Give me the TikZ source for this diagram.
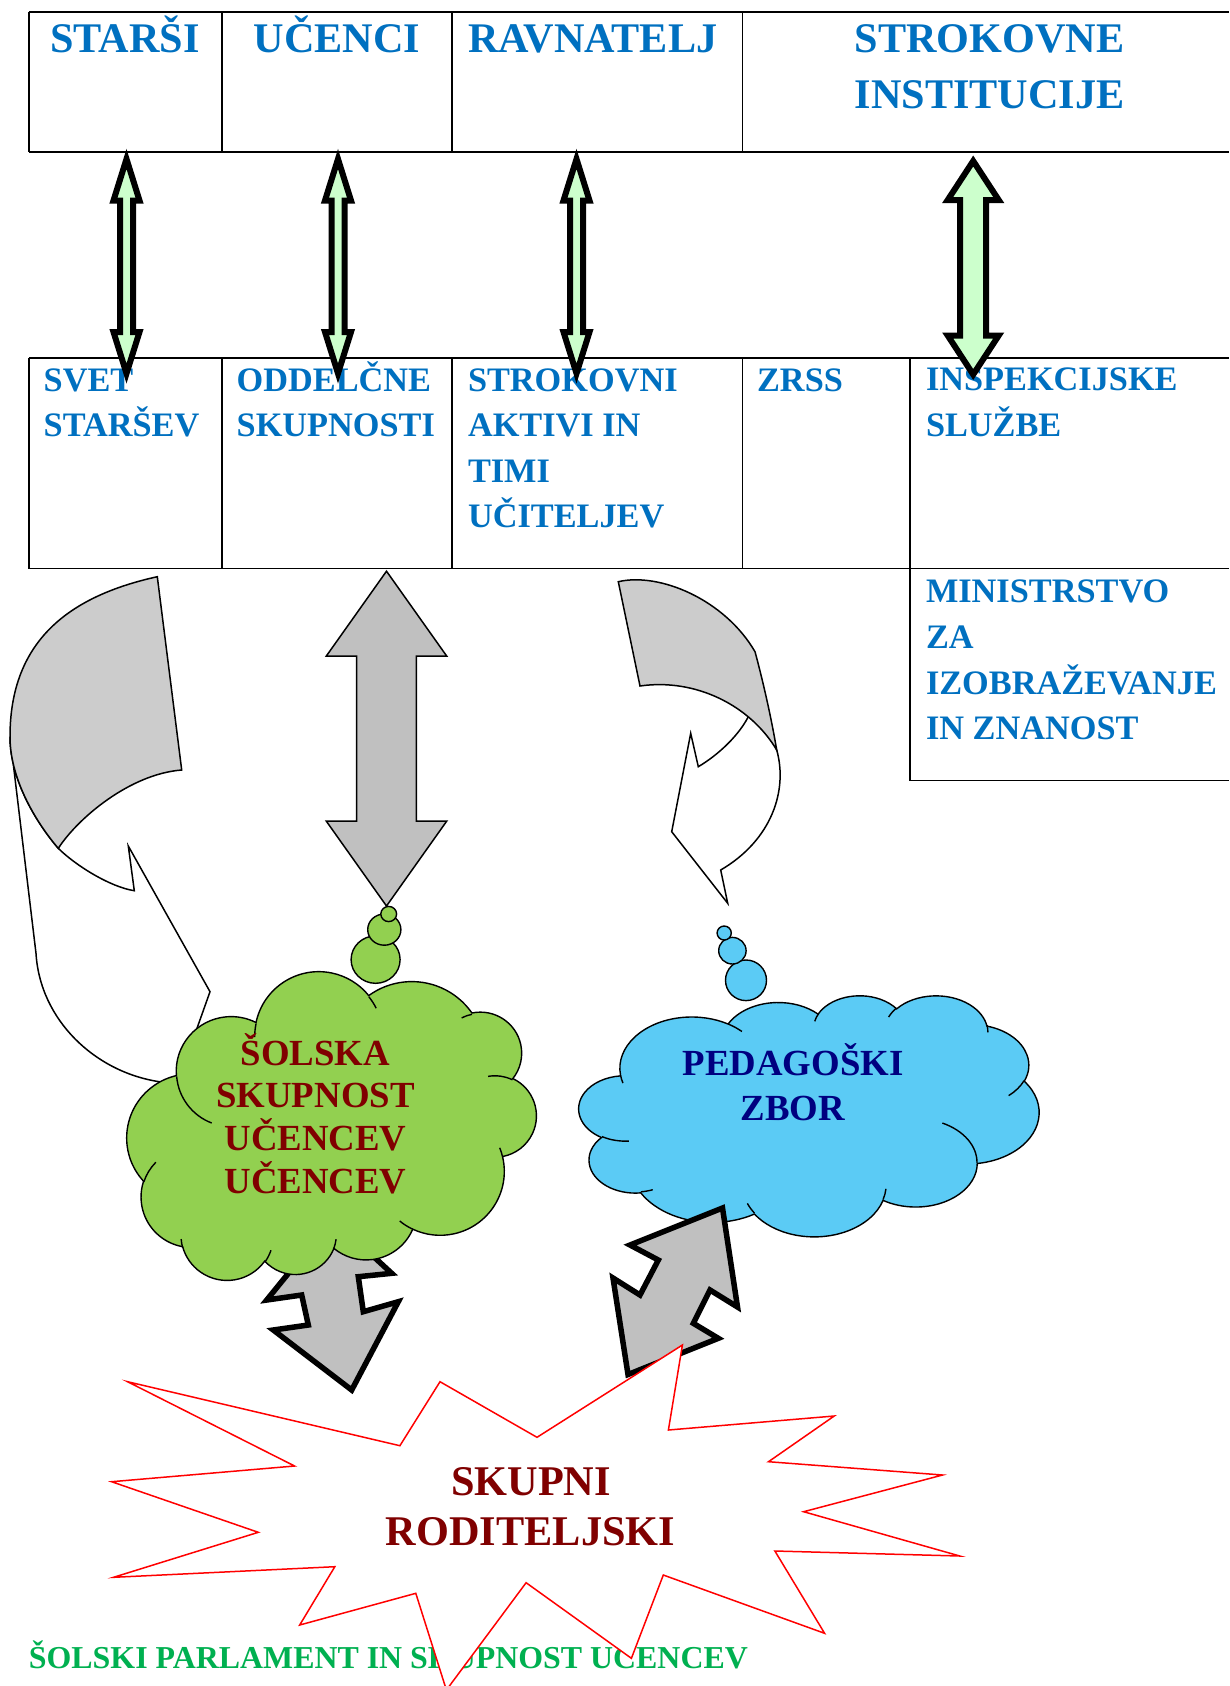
\documentclass[tikz,border=0pt]{standalone}
\usepackage{fontspec}
\setmainfont{Liberation Serif}
\definecolor{hblue}{HTML}{0070C0}
\definecolor{dred}{HTML}{800000}
\definecolor{navyc}{HTML}{000080}
\definecolor{pgreen}{HTML}{00B050}
\definecolor{lgreen}{HTML}{CCFFCC}
\definecolor{cgreen}{HTML}{92D050}
\definecolor{cblue}{HTML}{5BCBF5}
\definecolor{agray}{HTML}{C0C0C0}
\definecolor{bgray}{HTML}{CCCCCC}
\pgfmathdeclarefunction{dmlt}{3}{\pgfmathparse{atan2((#1)*sin(#3),(#2)*cos(#3))}}
\pgfmathdeclarefunction{dmld}{4}{\pgfmathparse{mod(atan2((#1)*sin((#3)+(#4)),(#2)*cos((#3)+(#4)))-atan2((#1)*sin(#3),(#2)*cos(#3))+720,360)-((#4)<0)*360}}
\newcommand\darc[4]{arc[start angle={dmlt(#1,#2,#3)},delta angle={dmld(#1,#2,#3,#4)},x radius=#1,y radius=#2]}
\newcommand\cloudoutline{(390,1437) \darc{675.3}{919}{-190.4875}{123.7805} \darc{533.3}{726.7}{-144.1024}{89.9452} \darc{436.5}{594.5}{-145.8079}{99.7230} \darc{485.7}{659.5}{-130.9861}{117.2417} \darc{533.3}{727.3}{-78.7089}{109.0269} \darc{677.5}{922}{-46.2673}{130.2690} \darc{578.5}{786.7}{0.6250}{114.0333} \darc{675.2}{921.5}{22.4516}{115.1726} \darc{772}{1054.3}{66.2426}{75.7110} \darc{436}{591.8}{-274.9421}{146.7356} \darc{434.5}{594.5}{-246.8285}{152.5189} -- cycle}
\newcommand\clouddetail{(469.3,2617.7) \darc{434.5}{594.5}{86.742}{26.4295} (692.8,3489.9) \darc{436}{591.8}{73.6105}{11.4475} (1647.8,3909) \darc{675.2}{921.5}{137.6242}{14.0811} (2882.7,3475.1) \darc{675.2}{921.5}{6.4533}{15.9984} (3412.9,2295.4) \darc{578.5}{786.7}{-70.2924}{70.9174} (4179.8,1535.4) \darc{533.3}{727.3}{30.318}{27.7515} (3832.4,542.6) \darc{485.7}{659.5}{-13.7443}{14.8589} (2907.8,395.2) \darc{485.7}{659.5}{-149.1815}{18.1954} (2214.1,472) \darc{436.5}{594.5}{-163.4943}{17.6864} (1400,519.2) \darc{675.3}{919}{-66.707}{12.3194} (412.7,1578.9) \darc{675.3}{919}{157.6544}{11.8582}}
\newcommand\vdarrow[7]{\draw[#1] (#2,#3) -- ({#2+#6},{#3+#5}) -- ({#2+#7},{#3+#5}) -- ({#2+#7},{#4-#5}) -- ({#2+#6},{#4-#5}) -- (#2,#4) -- ({#2-#6},{#4-#5}) -- ({#2-#7},{#4-#5}) -- ({#2-#7},{#3+#5}) -- ({#2-#6},{#3+#5}) -- cycle;}
\tikzset{
  tbl/.style={line width=1.6pt},
  garrow/.style={draw=black, fill=lgreen, line width=6pt, line join=miter},
  grayarrow/.style={draw=black, fill=agray, line width=1.5pt, line join=miter},
  outl/.style={draw=black, line width=1.5pt, line join=miter},
  bolt/.style={draw=black, fill=agray, line width=5.5pt, line join=miter},
  cloudl/.style={draw=black, line width=1.4pt},
  hd/.style={inner sep=0pt, text=hblue, font=\fontsize{42.2}{50}\selectfont\bfseries},
  cell/.style={inner sep=0pt, text=hblue, anchor=base west, font=\fontsize{34.3}{40}\selectfont\bfseries},
  ctxt/.style={inner sep=0pt, anchor=base, font=\fontsize{36.8}{44}\selectfont\bfseries},
  stxt/.style={inner sep=0pt, anchor=base, text=dred, font=\fontsize{42.3}{50}\selectfont\bfseries},
  ptxt/.style={inner sep=0pt, anchor=base west, text=pgreen, font=\fontsize{31.9}{38}\selectfont\bfseries}
}
\begin{document}
\begin{tikzpicture}[x=1pt,y=-1pt]
\useasboundingbox (0,0) rectangle (1229,1686);
% table
\draw[tbl] (28.9,11.8) -- (1229,11.8);
\draw[tbl] (28.9,152) -- (1229,152);
\foreach \xx in {28.9,222.2,452,742.3} \draw[tbl] (\xx,11.8) -- (\xx,152);
\draw[tbl] (28.9,358) -- (1229,358);
\draw[tbl] (28.9,568.5) -- (1229,568.5);
\foreach \xx in {28.9,222.2,452,742.3,910} \draw[tbl] (\xx,358) -- (\xx,568.5);
\draw[tbl] (910,568.5) -- (910,780.6) -- (1229,780.6);
% header texts
\node[hd, anchor=base] (h1) at (124.8,52.9) {STARŠI};
\node[hd, anchor=base] (h2) at (337,52.9) {UČENCI};
\node[hd, anchor=base west] (h3) at (467.8,52.9) {RAVNATELJ};
\node[hd, anchor=base] (h4) at (989.6,52.6) {STROKOVNE};
\node[hd, anchor=base] (h5) at (989.6,108.2) {INSTITUCIJE};
% cell texts
\node[cell] (c1) at (43.5,391) {SVET};
\node[cell] (c2) at (43.5,436.6) {STARŠEV};
\node[cell] (c3) at (236.5,391) {ODDELČNE};
\node[cell] (c4) at (236.5,436.6) {SKUPNOSTI};
\node[cell] (c5) at (467.8,391) {STROKOVNI};
\node[cell] (c6) at (467.8,436.6) {AKTIVI IN};
\node[cell] (c7) at (467.8,482.2) {TIMI};
\node[cell] (c8) at (467.8,527.8) {UČITELJEV};
\node[cell] (c9) at (756.9,391) {ZRSS};
\node[cell] (c10) at (925.8,390) {INSPEKCIJSKE};
\node[cell] (c11) at (925.8,436) {SLUŽBE};
\node[cell] (c12) at (925.8,602) {MINISTRSTVO};
\node[cell] (c13) at (925.8,648) {ZA};
\node[cell] (c14) at (925.8,694) {IZOBRAŽEVANJE};
\node[cell] (c15) at (925.8,739) {IN ZNANOST};
% green double arrows
\vdarrow{garrow}{126.5}{159}{373.5}{41.5}{13}{6.5}
\vdarrow{garrow}{338}{159}{373.5}{41.5}{13}{6.5}
\vdarrow{garrow}{576.5}{159}{373.5}{41.5}{13}{6.5}
\vdarrow{garrow}{973.2}{161}{374.5}{39}{25.5}{13}
% left curved arrow
\draw[outl, fill=white] (10,736.7) -- (36,953.3) .. controls (40,1020) and (95,1072) .. (159.3,1081.7) -- (162,1089) -- (174,1093) -- (210,991.7) -- (128.3,846) -- (134.3,890.7) .. controls (110,887) and (75,865) .. (58.3,848.3) .. controls (38.9,825.8) and (10,781.7) .. (10,736.7) -- cycle;
\draw[outl, fill=bgray] (157.3,576.7) .. controls (70,596) and (10,640) .. (10,736.7) .. controls (10,781.7) and (38.9,825.8) .. (58.3,848.3) .. controls (78,818) and (130,774) .. (181.7,770) -- cycle;
% right curved arrow
\draw[outl, fill=white] (776.7,750) .. controls (788,790) and (772,840) .. (720.7,870) -- (727.7,903.3) -- (671.7,831.7) -- (690.7,733.3) -- (698.3,766.7) .. controls (718,755) and (740,735) .. (750,713.3) .. controls (762,725) and (772,738) .. (776.7,750) -- cycle;
\draw[outl, fill=bgray] (618.3,581.7) .. controls (660,572) and (725,600) .. (755,651.7) .. controls (760,670) and (770,710) .. (776.7,750) .. controls (750,705) and (695,678) .. (640,686) -- cycle;
% gray middle double arrow
\vdarrow{grayarrow}{386.5}{571.2}{906}{85}{60.3}{29.85}
% left bolt arrow
\draw[bolt] (309,1248) -- (266.7,1300) -- (301.7,1295) -- (308.3,1325) -- (273.3,1330) -- (351.7,1390) -- (398.3,1301.7) -- (363.3,1311.7) -- (358.3,1276.7) -- (391.7,1273.3) -- (361,1245) -- cycle;
% green bubbles and cloud
\draw[cloudl, fill=cgreen] (375.6,959.6) ellipse [x radius=24.5, y radius=23.7];
\draw[cloudl, fill=cgreen] (384.3,929.6) ellipse [x radius=16.6, y radius=15.6];
\draw[cloudl, fill=cgreen] (388.7,914) ellipse [x radius=7.9, y radius=7.6];
\begin{scope}[shift={(331pt,-1122pt)}, rotate=5, shift={(205pt,-150pt)}, x=-0.094907pt, y=0.069444pt]
  \draw[cloudl, fill=cgreen] \cloudoutline;
  \draw[cloudl] \clouddetail;
\end{scope}
\node[ctxt, text=dred] (g1) at (315.5,1065) {ŠOLSKA};
\node[ctxt, text=dred] (g2) at (315.5,1107.8) {SKUPNOST};
\node[ctxt, text=dred] (g3) at (315.5,1150.5) {UČENCEV};
\node[ctxt, text=dred] (g4) at (315.5,1193.2) {UČENCEV};
% blue bubbles and cloud
\draw[cloudl, fill=cblue] (746,980.3) ellipse [x radius=20.5, y radius=20.3];
\draw[cloudl, fill=cblue] (732.4,950.7) ellipse [x radius=13.7, y radius=13.3];
\draw[cloudl, fill=cblue] (724.2,933) ellipse [x radius=7.1, y radius=7];
\begin{scope}[shift={(579pt,-995pt)}, x=0.106481pt, y=-0.055787pt]
  \draw[cloudl, fill=cblue] \cloudoutline;
  \draw[cloudl] \clouddetail;
\end{scope}
\node[ctxt, text=navyc] (b1) at (793,1075) {PEDAGOŠKI};
\node[ctxt, text=navyc] (b2) at (793,1120) {ZBOR};
% right bolt arrow
\draw[bolt] (722.5,1208) -- (737.5,1307) -- (710,1290) -- (693.3,1323.3) -- (718.3,1338.3) -- (628,1374.5) -- (613,1278) -- (640,1295) -- (658.3,1260) -- (630,1245) -- cycle;
% bottom text
\node[ptxt] (p1) at (28.7,1668.3) {ŠOLSKI PARLAMENT IN SKUPNOST UČENCEV};
% star
\draw[red, line width=1.5pt, fill=white, line join=miter] (127.6,1381.7) -- (399.9,1445.7) -- (440,1381.7) -- (537,1437.3) -- (682.4,1345) -- (668.4,1430) -- (834.2,1416) -- (768.5,1461.7) -- (942.6,1475) -- (803.6,1511.7) -- (959.8,1556) -- (774.9,1551) -- (824.6,1633.3) -- (663.3,1575) -- (631.4,1658.3) -- (526.1,1582.7) -- (446.4,1690) -- (415.8,1593.3) -- (299.7,1625) -- (334.8,1566.7) -- (113.5,1577.3) -- (258.3,1532.3) -- (111.6,1481.7) -- (294.6,1466) -- cycle;
\node[stxt] (s1) at (531,1495) {SKUPNI};
\node[stxt] (s2) at (530.5,1545) {RODITELJSKI};
\end{tikzpicture}
\end{document}
